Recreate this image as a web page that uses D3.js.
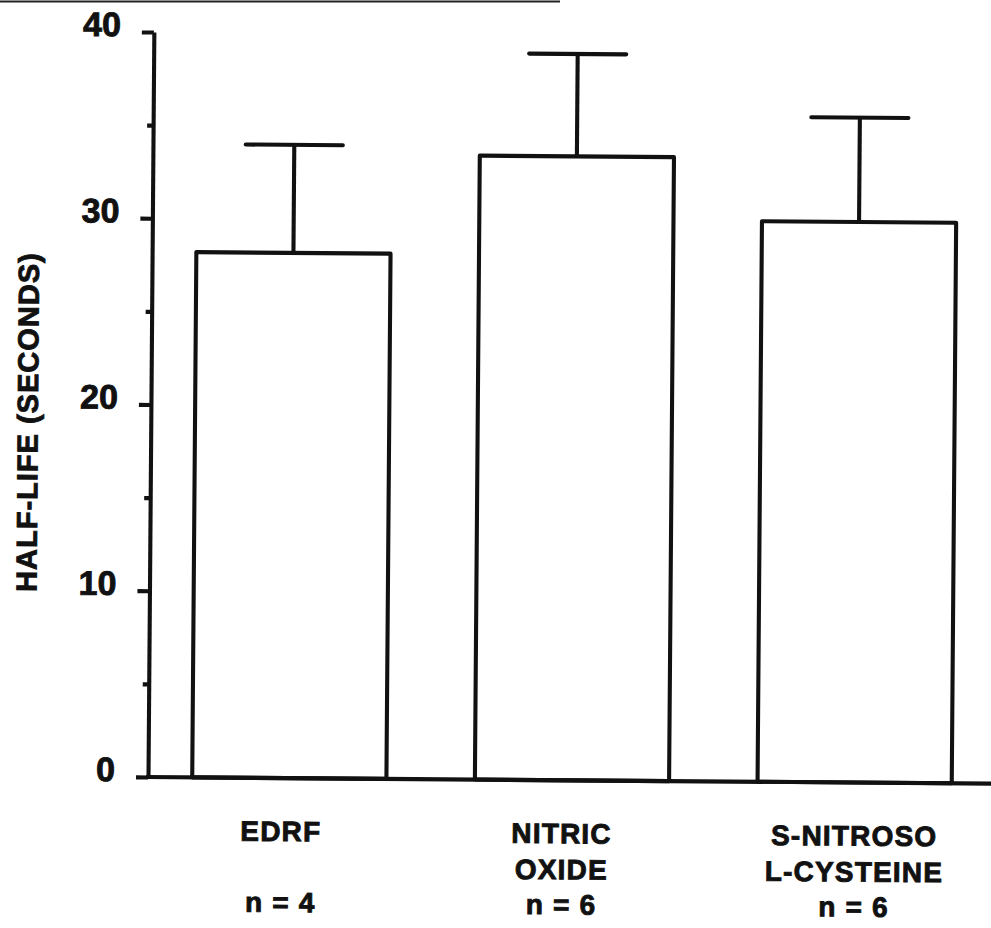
<!DOCTYPE html>
<html>
<head>
<meta charset="utf-8">
<script src="https://cdn.jsdelivr.net/npm/d3@7"></script>
<style>
  html, body { margin: 0; padding: 0; background: #fff; }
  svg { display: block; }
  text { font-family: "Liberation Sans", Arial, Helvetica, sans-serif; font-weight: bold; fill: #111; stroke: #111; stroke-width: 0.9px; }
</style>
</head>
<body>
<svg id="chart" width="991" height="928"></svg>
<script>
// Half-life of each agent, mean and SEM (seconds)
const categories = ["EDRF", "NITRIC OXIDE", "S-NITROSO L-CYSTEINE"];
const labelLines = [["EDRF"], ["NITRIC", "OXIDE"], ["S-NITROSO", "L-CYSTEINE"]];
const sampleSizes = ["n = 4", "n = 6", "n = 6"];
const meanValues = [28.2, 33.5, 30.1];
const semValues = [5.8, 5.5, 5.6];
const majorTicks = [0, 10, 20, 30, 40];
const minorTicks = [5, 15, 25, 35];
const yTitle = "HALF-LIFE (SECONDS)";

const ink = "#111";
const lw = 4.1;

const svg = d3.select("#chart");

// thin rule along the top edge of the page
svg.append("line")
  .attr("x1", 0).attr("x2", 560).attr("y1", 1.5).attr("y2", 1.5)
  .attr("stroke", "#222").attr("stroke-width", 2);

// the whole figure sits very slightly turned, as printed
const g = svg.append("g").attr("transform", "rotate(0.45, 148, 777)");

const y = d3.scaleLinear().domain([0, 40]).range([777, 32]);
const x = d3.scaleBand().domain(categories).range([147, 997])
  .paddingInner(0.313).paddingOuter(0.16);

// bars
g.selectAll("rect.bar").data(categories).join("rect")
  .attr("class", "bar")
  .attr("x", d => x(d))
  .attr("y", (d, i) => y(meanValues[i]))
  .attr("width", x.bandwidth())
  .attr("height", (d, i) => y(0) - y(meanValues[i]))
  .attr("fill", "#fff").attr("stroke", ink).attr("stroke-width", lw)
  .attr("stroke-linejoin", "round");

// upper error bars
const capHalf = x.bandwidth() * 0.25;
const eb = g.selectAll("g.err").data(categories).join("g").attr("class", "err");
eb.append("line")
  .attr("x1", d => x(d) + x.bandwidth() / 2).attr("x2", d => x(d) + x.bandwidth() / 2)
  .attr("y1", (d, i) => y(meanValues[i]))
  .attr("y2", (d, i) => y(meanValues[i] + semValues[i]))
  .attr("stroke", ink).attr("stroke-width", lw);
eb.append("line")
  .attr("x1", d => x(d) + x.bandwidth() / 2 - capHalf)
  .attr("x2", d => x(d) + x.bandwidth() / 2 + capHalf)
  .attr("y1", (d, i) => y(meanValues[i] + semValues[i]))
  .attr("y2", (d, i) => y(meanValues[i] + semValues[i]))
  .attr("stroke", ink).attr("stroke-width", lw).attr("stroke-linecap", "round");

// y axis: major ticks with labels, minor ticks without
const yAxis = g.append("g").attr("transform", "translate(148,0)")
  .call(d3.axisLeft(y).tickValues(majorTicks).tickSize(12).tickPadding(21).tickSizeOuter(0));
yAxis.select(".domain").attr("stroke", ink).attr("stroke-width", lw);
yAxis.selectAll(".tick line").attr("stroke", ink).attr("stroke-width", lw);
yAxis.selectAll(".tick text")
  .attr("font-size", 34).attr("dy", null)
  .attr("y", 4)
  .style("font-family", "'Liberation Sans', Arial, sans-serif")
  .style("font-weight", "bold").attr("fill", ink);

const yMinor = g.append("g").attr("transform", "translate(148,0)")
  .call(d3.axisLeft(y).tickValues(minorTicks).tickSize(6).tickFormat(""));
yMinor.select(".domain").remove();
yMinor.selectAll(".tick line").attr("stroke", ink).attr("stroke-width", lw);

// x baseline
g.append("line")
  .attr("x1", 146).attr("x2", 1000).attr("y1", y(0)).attr("y2", y(0))
  .attr("stroke", ink).attr("stroke-width", lw);

// category labels and sample sizes
const labelNudge = [-8, -10, 0];
const lineBase = [840, 876];
const labels = g.selectAll("g.lab").data(categories).join("g").attr("class", "lab")
  .attr("transform", (d, i) => `translate(${x(d) + x.bandwidth() / 2 + labelNudge[i]},0)`);
labels.each(function(d, i) {
  const sel = d3.select(this);
  labelLines[i].forEach((t, k) => {
    sel.append("text").attr("x", 0).attr("y", lineBase[k])
      .attr("text-anchor", "middle").attr("font-size", 28)
      .attr("letter-spacing", 1.2).text(t);
  });
  sel.append("text").attr("x", 0).attr("y", 911)
    .attr("text-anchor", "middle").attr("font-size", 28)
    .attr("letter-spacing", 1.2).text(sampleSizes[i]);
});

// y axis title
g.append("text")
  .attr("transform", "translate(35,423) rotate(-90)")
  .attr("text-anchor", "middle").attr("font-size", 29)
  .attr("letter-spacing", 1).text(yTitle);
</script>
</body>
</html>
